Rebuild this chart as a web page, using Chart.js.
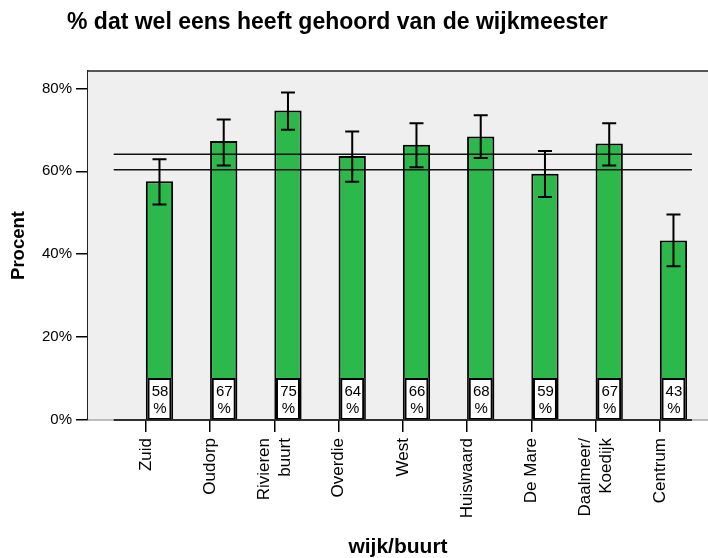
<!DOCTYPE html>
<html>
<head>
<meta charset="utf-8">
<script src="https://cdn.jsdelivr.net/npm/chart.js@4.4.1/dist/chart.umd.min.js"></script>
<style>
  html,body{margin:0;padding:0;background:#fff}
  canvas{display:block}
</style>
</head>
<body>
<canvas id="chart" width="708" height="558"></canvas>
<script>
// data
const titel = '% dat wel eens heeft gehoord van de wijkmeester';
const wijken = ['Zuid','Oudorp',['Rivieren','buurt'],'Overdie','West','Huiswaard','De Mare',['Daalmeer/','Koedijk'],'Centrum'];
const procent = [57.6,67.3,74.7,63.7,66.4,68.4,59.4,66.7,43.3];
const ciLaag  = [52.0,61.4,70.0,57.5,61.0,63.2,53.8,61.4,37.1];
const ciHoog  = [62.9,72.5,79.0,69.6,71.6,73.5,64.9,71.6,49.6];
const refLijnen = [64.1,60.4];
const yTicks = [0,20,40,60,80];

const FONT = "'Liberation Sans', Arial, sans-serif";
Chart.defaults.font.family = FONT;
Chart.defaults.color = '#000';

// grijze achtergrond, randen, foutbalken, labels
const extras = {
  id:'extras',
  beforeDatasetsDraw(chart){
    const {ctx, chartArea:a} = chart;
    ctx.save();
    ctx.fillStyle='#efefef';
    ctx.fillRect(a.left,a.top,a.right-a.left,a.bottom-a.top);
    ctx.restore();
  },
  afterDatasetsDraw(chart){
    const {ctx, chartArea:a, scales:{x,y}} = chart;
    const meta = chart.getDatasetMeta(1);
    ctx.save();
    // foutbalken
    ctx.strokeStyle='#000'; ctx.lineWidth=2;
    meta.data.forEach((el,i)=>{
      const yl=y.getPixelForValue(ciLaag[i]), yh=y.getPixelForValue(ciHoog[i]);
      ctx.beginPath();
      ctx.moveTo(el.x,yl); ctx.lineTo(el.x,yh);
      ctx.moveTo(el.x-7,yl); ctx.lineTo(el.x+7,yl);
      ctx.moveTo(el.x-7,yh); ctx.lineTo(el.x+7,yh);
      ctx.stroke();
    });
    // waardelabels
    meta.data.forEach((el,i)=>{
      const w=24,h=42,l=el.x-12,t=a.bottom-h;
      ctx.fillStyle='#fff'; ctx.fillRect(l,t,w,h);
      ctx.strokeStyle='#000'; ctx.lineWidth=2; ctx.strokeRect(l+1,t+1,w-2,h-2);
      ctx.fillStyle='#000'; ctx.font='15px '+FONT; ctx.textAlign='center'; ctx.textBaseline='middle';
      ctx.fillText(String(Math.round(procent[i])), el.x+0.5, a.bottom-28);
      ctx.fillText('%', el.x+0.5, a.bottom-11);
    });
    // randen plotgebied
    ctx.lineWidth=1.5;
    ctx.strokeStyle='#222';
    ctx.beginPath(); ctx.moveTo(a.left,a.top); ctx.lineTo(a.right,a.top); ctx.stroke();
    ctx.strokeStyle='#aaa';
    ctx.beginPath(); ctx.moveTo(a.left,a.bottom); ctx.lineTo(a.right,a.bottom); ctx.stroke();
    ctx.strokeStyle='#000';
    ctx.beginPath(); ctx.moveTo(x.getPixelForValue(-0.5),a.bottom); ctx.lineTo(x.getPixelForValue(wijken.length-0.5),a.bottom); ctx.stroke();
    ctx.restore();
  },
  afterDraw(chart){
    const {ctx, chartArea:a, scales:{x}} = chart;
    ctx.save();
    // categorie labels, verticaal
    ctx.fillStyle='#000'; ctx.font='17px '+FONT; ctx.textAlign='right'; ctx.textBaseline='middle';
    wijken.forEach((lab,i)=>{
      const lines = Array.isArray(lab)?lab:[lab];
      const px = x.getPixelForValue(i);
      ctx.save();
      ctx.translate(px, a.bottom+18);
      ctx.rotate(-Math.PI/2);
      lines.forEach((ln,j)=>ctx.fillText(ln, 0, (j-(lines.length-1)/2)*21));
      ctx.restore();
    });
    // titel
    ctx.font='bold 23px '+FONT; ctx.textAlign='left'; ctx.textBaseline='alphabetic';
    ctx.fillText(titel, 67, 29);
    ctx.restore();
  }
};

new Chart(document.getElementById('chart'), {
  data:{
    datasets:[
      { type:'bar', data:[], order:2, categoryPercentage:0.85, barPercentage:1 },
      { type:'bar', data:procent.map((v,i)=>({x:i,y:v})), order:2,
        backgroundColor:'#2db84b', borderColor:'#000', borderWidth:2, borderSkipped:false,
        categoryPercentage:0.85, barPercentage:1 },
      ...refLijnen.map(v=>({ type:'line', order:1,
        data:[{x:-0.5,y:v},{x:wijken.length-0.5,y:v}],
        borderColor:'#111', borderWidth:1.5, pointRadius:0, fill:false }))
    ]
  },
  options:{
    responsive:false, animation:false, devicePixelRatio:1,
    layout:{ padding:{ top:71, left:0, right:0, bottom:0 } },
    plugins:{ legend:{display:false}, tooltip:{enabled:false}, title:{display:false} },
    scales:{
      x:{
        type:'linear', min:-0.9, max:8.75, offset:false,
        afterBuildTicks:s=>{ s.ticks = wijken.map((_,i)=>({value:i})); },
        afterFit:s=>{ s.height = 138; },
        ticks:{ display:false },
        grid:{ offset:false, drawOnChartArea:false, drawTicks:true, tickLength:12, color:'#000', lineWidth:1.5 },
        border:{ display:false },
        title:{ display:true, text:'wijk/buurt', font:{ size:21, weight:'bold', lineHeight:1 }, padding:{top:0,bottom:0}, color:'#000' }
      },
      y:{
        min:0, max:84.2,
        afterBuildTicks:s=>{ s.ticks = yTicks.map(v=>({value:v})); },
        afterFit:s=>{ s.width = 88; },
        ticks:{ callback:v=>v+'%', font:{ size:15 }, padding:4, color:'#000' },
        grid:{ drawOnChartArea:false, drawTicks:true, tickLength:12, color:'#000', lineWidth:1.5 },
        border:{ display:true, color:'#222', width:1.5 },
        title:{ display:true, text:'Procent', font:{ size:18.5, weight:'bold', lineHeight:1 }, padding:{top:10,bottom:0}, color:'#000' }
      }
    }
  },
  plugins:[extras]
});
</script>
</body>
</html>
